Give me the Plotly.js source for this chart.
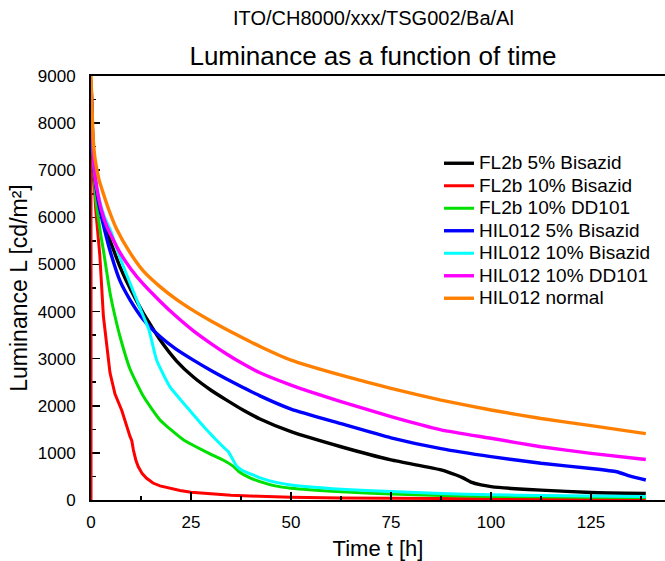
<!DOCTYPE html>
<html>
<head>
<meta charset="utf-8">
<script src="https://cdn.plot.ly/plotly-3.0.1.min.js"></script>
<style>html,body{margin:0;padding:0;background:#fff;}#chart{width:665px;height:561px;}</style>
</head>
<body>
<div id="chart"></div>
<script>
// Series names
const seriesNames = ["FL2b 5% Bisazid", "FL2b 10% Bisazid", "FL2b 10% DD101", "HIL012 5% Bisazid", "HIL012 10% Bisazid", "HIL012 10% DD101", "HIL012 normal"];
const seriesColors = ["#000000", "#ff0000", "#00e000", "#0000ff", "#00ffff", "#ff00ff", "#ff8000"];

// FL2b 5% Bisazid (black)
const blackX = [0, 0.4, 0.8, 1.5, 2.5, 3.5, 5, 7.25, 10, 13.1, 15, 17.25, 21.4, 25.6, 30, 33.9, 38, 42.25, 50, 62.5, 75, 87.5, 91.3, 93, 95, 97.5, 100, 106, 112.5, 125, 138.7];
const blackY = [8900, 7700, 7050, 6500, 6100, 5800, 5450, 4950, 4450, 3960, 3700, 3400, 2950, 2610, 2330, 2120, 1910, 1720, 1450, 1130, 850, 640, 530, 470, 380, 320, 285, 240, 210, 160, 140];

// FL2b 10% Bisazid (red)
const redX = [0, 0, 0.3, 0.6, 1.2, 1.7, 2.2, 3.1, 4.75, 6, 7.7, 9.75, 10.2, 10.6, 11.2, 11.8, 12.8, 13.9, 15.5, 17.25, 20, 22.25, 25, 29.75, 35, 42, 50, 62.5, 75, 100, 125, 138.7];
const redY = [0, 8900, 7700, 7000, 6150, 5600, 5200, 3900, 2700, 2250, 1900, 1350, 1260, 1060, 850, 710, 560, 460, 360, 300, 240, 200, 165, 127, 100, 80, 60, 45, 35, 25, 20, 20];

// FL2b 10% DD101 (green)
const greenX = [0, 0.4, 0.8, 1.3, 1.8, 2.5, 3.1, 4.75, 6, 7.25, 9.75, 13.1, 17.25, 23.1, 29.75, 33, 35.5, 37, 39.75, 42.25, 46, 50, 62.5, 75, 87.5, 100, 125, 138.7];
const greenY = [8900, 7600, 6900, 6300, 6000, 5600, 5300, 4400, 3900, 3470, 2780, 2200, 1700, 1280, 980, 850, 720, 600, 470, 390, 300, 250, 175, 125, 95, 75, 60, 55];

// HIL012 5% Bisazid (blue)
const blueX = [0, 0.4, 0.8, 1.5, 2.25, 3.5, 4.9, 7.25, 9.75, 13.1, 17.25, 21, 25.6, 30, 33.9, 38, 42.25, 50, 62.5, 75, 87.5, 100, 112.5, 125, 131.4, 135, 138.7];
const blueY = [8900, 7700, 7000, 6500, 6150, 5700, 5250, 4650, 4250, 3830, 3470, 3220, 2970, 2750, 2570, 2390, 2210, 1930, 1620, 1320, 1090, 920, 780, 670, 600, 500, 425];

// HIL012 10% Bisazid (cyan)
const cyanX = [0, 0.4, 0.8, 1.5, 2.5, 3.4, 5, 7, 10, 13.1, 14.5, 16.4, 19.75, 23.9, 28.9, 33, 34.3, 35.2, 36.4, 38, 40, 42.25, 46, 50, 62.5, 75, 87.5, 100, 112.5, 125, 138.7];
const cyanY = [8900, 7700, 7050, 6600, 6250, 6000, 5700, 5200, 4550, 3900, 3610, 2970, 2400, 1980, 1490, 1130, 1030, 900, 720, 620, 550, 470, 380, 320, 230, 180, 140, 110, 95, 85, 75];

// HIL012 10% DD101 (magenta)
const magentaX = [0, 0.4, 0.8, 1.5, 2.6, 4, 6, 7.25, 10, 13.1, 17.25, 21, 25.6, 30, 33.9, 38, 42.25, 50, 62.5, 75, 87.5, 100, 112.5, 125, 138.7];
const magentaY = [8900, 7700, 7050, 6600, 6150, 5800, 5450, 5250, 4900, 4580, 4220, 3920, 3590, 3320, 3100, 2890, 2700, 2440, 2090, 1770, 1490, 1310, 1130, 990, 860];

// HIL012 normal (orange)
const orangeX = [0, 0.3, 0.6, 1, 2, 3.1, 4.5, 6.4, 9.75, 13, 17.25, 21, 25.6, 30, 33.9, 38, 42.25, 50, 62.5, 75, 87.5, 100, 112.5, 125, 138.7];
const orangeY = [9000, 8200, 7600, 7250, 6800, 6500, 6150, 5750, 5250, 4870, 4530, 4280, 4020, 3800, 3620, 3440, 3260, 2970, 2650, 2370, 2120, 1910, 1730, 1580, 1410];

const xTickVals = [0, 25, 50, 75, 100, 125];
const xTickText = ["0", "25", "50", "75", "100", "125"];
const yTickVals = [0, 1000, 2000, 3000, 4000, 5000, 6000, 7000, 8000, 9000];
const yTickText = ["0", "1000", "2000", "3000", "4000", "5000", "6000", "7000", "8000", "9000"];

const xs = [blackX, redX, greenX, blueX, cyanX, magentaX, orangeX];
const ys = [blackY, redY, greenY, blueY, cyanY, magentaY, orangeY];

const FONT = "Arial, 'Liberation Sans', sans-serif";

const traces = seriesNames.map((n, i) => ({
  type: "scatter",
  mode: "lines",
  name: '<span style="font-size:19px">' + n + '</span>',
  x: xs[i],
  y: ys[i],
  line: {
    color: seriesColors[i],
    width: (i === 1 || i === 2 || i === 4) ? 3 : 3.4,
    shape: i === 1 ? "linear" : "spline",
    smoothing: 0.5
  }
}));

const layout = {
  width: 665,
  height: 561,
  margin: {l: 91, r: 0, t: 76, b: 61},
  paper_bgcolor: "#ffffff",
  plot_bgcolor: "#ffffff",
  font: {family: FONT, color: "#000", size: 17},
  showlegend: true,
  title: {
    text: "Luminance as a function of time",
    font: {family: FONT, size: 26, color: "#000"},
    x: 373 / 665, xanchor: "center",
    y: (561 - 56) / 561, yanchor: "middle",
    xref: "container", yref: "container"
  },
  annotations: [{
    text: "ITO/CH8000/xxx/TSG002/Ba/Al",
    xref: "paper", yref: "paper",
    x: (373 - 91) / 574, y: (500 - 18) / 424,
    xanchor: "center", yanchor: "middle",
    showarrow: false,
    font: {family: FONT, size: 20, color: "#000"}
  }],
  legend: {
    x: (439 - 91) / 574, y: (500 - 147) / 424,
    xanchor: "left", yanchor: "top",
    bgcolor: "rgba(0,0,0,0)",
    borderwidth: 0,
    font: {family: FONT, size: 15, color: "#000"},
    tracegroupgap: 0
  },
  xaxis: {
    range: [0, 143.5],
    tickmode: "array",
    tickvals: xTickVals,
    ticktext: xTickText,
    ticks: "inside",
    ticklen: 8,
    tickwidth: 1.5,
    tickcolor: "#000",
    ticklabelstandoff: 6,
    minor: {dtick: 12.5, tick0: 0, ticks: "inside", ticklen: 4, tickwidth: 1.5, tickcolor: "#000"},
    showline: true,
    linecolor: "#000",
    linewidth: 2,
    mirror: true,
    showgrid: false,
    zeroline: false,
    tickfont: {family: FONT, size: 17, color: "#000"},
    title: {text: "Time t [h]", font: {family: FONT, size: 22, color: "#000"}, standoff: 12},
    automargin: false
  },
  yaxis: {
    range: [0, 9000],
    tickmode: "array",
    tickvals: yTickVals,
    ticktext: yTickText,
    ticks: "inside",
    ticklen: 9,
    tickwidth: 1.5,
    tickcolor: "#000",
    ticklabelstandoff: 10,
    minor: {dtick: 500, tick0: 0, ticks: "inside", ticklen: 5, tickwidth: 1.5, tickcolor: "#000"},
    showline: true,
    linecolor: "#000",
    linewidth: 2,
    layer: "below traces",
    showgrid: false,
    zeroline: false,
    tickfont: {family: FONT, size: 17, color: "#000"},
    title: {text: "Luminance L [cd/m²]", font: {family: FONT, size: 23, color: "#000"}, standoff: 4},
    automargin: false
  }
};

Plotly.newPlot("chart", traces, layout, {displayModeBar: false, staticPlot: true});
</script>
</body>
</html>
